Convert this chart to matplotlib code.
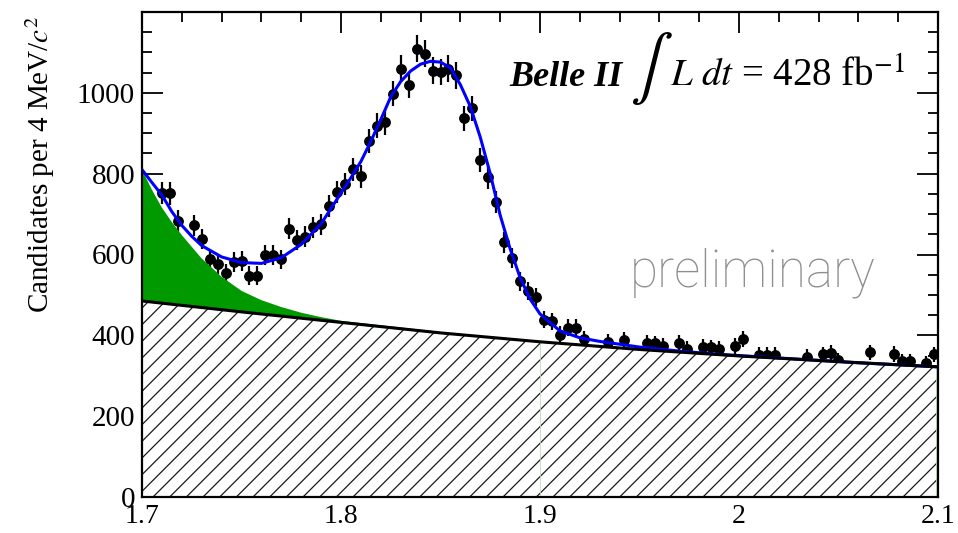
import numpy as np
import matplotlib
matplotlib.use("Agg")
import matplotlib.pyplot as plt
from matplotlib.ticker import MultipleLocator

# candidates per 4 MeV bin, 1.70 - 2.10 GeV
counts = [735, 700, 753, 751, 683, 605, 672, 639, 588, 576,
          553, 581, 584, 547, 547, 598, 598, 588, 664, 636,
          644, 667, 675, 720, 755, 774, 811, 793, 880, 919,
          927, 998, 1060, 1020, 1109, 1097, 1055, 1051, 1060, 1043,
          937, 962, 834, 791, 730, 630, 592, 534, 509, 495,
          439, 435, 402, 419, 419, 390, 354, 350, 383, 348,
          388, 346, 343, 381, 380, 374, 340, 381, 367, 336,
          371, 370, 366, 331, 374, 390, 327, 352, 352, 352,
          322, 320, 322, 347, 318, 353, 356, 339, 314, 312,
          312, 358, 309, 307, 354, 336, 336, 304, 331, 353]

# total fit
fit_x = [1.70, 1.705, 1.71, 1.715, 1.72, 1.725, 1.73, 1.74, 1.75, 1.76,
         1.77, 1.78, 1.79, 1.80, 1.805, 1.81, 1.815, 1.82, 1.825, 1.83,
         1.835, 1.84, 1.845, 1.85, 1.855, 1.86, 1.865, 1.87, 1.875, 1.88,
         1.885, 1.89, 1.895, 1.90, 1.91, 1.92, 1.93, 1.94, 1.95, 1.96,
         1.97, 1.98, 1.99, 2.00, 2.02, 2.04, 2.06, 2.08, 2.10]
fit_total = [810, 778, 747, 706, 672, 645, 622, 594, 580, 578,
             592, 625, 676, 752, 790, 830, 880, 934, 990, 1028,
             1054, 1071, 1078, 1076, 1062, 1020, 966, 890, 800, 697,
             614, 543, 490, 453, 411, 394, 385, 378, 371, 366,
             361, 357, 353, 350, 344, 338, 332, 327, 322]

# background + low-mass component (green)
comp_x = [1.70, 1.705, 1.71, 1.715, 1.72, 1.73, 1.74, 1.75, 1.76, 1.77,
          1.78, 1.79, 1.80, 1.82, 1.84, 1.86, 1.88, 1.90]
comp_top = [810, 760, 716, 680, 648, 590, 545, 510, 487, 470,
            456, 445, 436, 425, 414, 403, 393, 385]

# smooth background
bkg_x = [1.70, 1.75, 1.80, 1.85, 1.90, 1.95, 2.00, 2.05, 2.10]
bkg_y = [485, 458, 432, 406, 384, 365, 349, 335, 322]

xtick_vals = [1.7, 1.8, 1.9, 2.0, 2.1]
xtick_labels = ["1.7", "1.8", "1.9", "2", "2.1"]

plt.rcParams['font.family'] = ['Liberation Serif', 'DejaVu Serif']
plt.rcParams['mathtext.fontset'] = 'stix'
plt.rcParams['hatch.linewidth'] = 0.9

fig = plt.figure(figsize=(9.58, 5.33), dpi=100)
ax = fig.add_axes([142/958, 36/533, 796/958, 485/533])

mass = np.linspace(1.702, 2.098, 100)
counts = np.array(counts)
ax.errorbar(mass, counts, yerr=np.sqrt(counts), fmt='o', color='k',
            ms=6.8, elinewidth=1.6, capsize=0, zorder=2)

# green component between its curve and the background
gx = np.r_[comp_x, bkg_x[4::-1]]
gy = np.r_[comp_top, bkg_y[4::-1]]
ax.fill(gx, gy, color='#009a00', lw=0, zorder=3)

# hatched background, white filled so it hides points underneath
hx = np.r_[bkg_x, 2.1, 1.7]
hy = np.r_[bkg_y, 0, 0]
ax.fill(hx, hy, facecolor='white', edgecolor='#1a1a1a', hatch='//', lw=0, zorder=3)
ax.vlines([1.9, 2.099], 0, [384, 322], color='#b8e0b8', lw=0.6, zorder=3)

ax.plot(fit_x, fit_total, color='#0000ff', lw=2.2, zorder=4)
ax.plot(bkg_x, bkg_y, color='k', lw=2.2, zorder=5)

ax.set_xlim(1.7, 2.1)
ax.set_ylim(0, 1200)
ax.set_xticks(xtick_vals)
ax.set_xticklabels(xtick_labels)
ax.set_yticks([0, 200, 400, 600, 800, 1000])
ax.xaxis.set_minor_locator(MultipleLocator(0.02))
ax.yaxis.set_minor_locator(MultipleLocator(50))
ax.tick_params(which='both', direction='in', top=True, right=True,
               width=1.3, labelsize=21)
ax.tick_params(which='major', length=15)
ax.tick_params(which='minor', length=7)
ax.tick_params(axis='x', which='major', pad=5, labelsize=20)
ax.tick_params(axis='y', which='major', pad=5)
for s in ax.spines.values():
    s.set_linewidth(1.6)
    s.set_zorder(6)

fig.text(40/958, 1 - 16/533, r"Candidates per 4 MeV/$c^2$", rotation=90,
         ha='center', va='top', fontsize=21)

ty = 0.847
ax.text(0.462, ty, "Belle II", transform=ax.transAxes, fontsize=26,
        fontweight='bold', style='italic', ha='left', va='baseline')
ax.text(0.613, 0.85, r"$\int$", transform=ax.transAxes, fontsize=46,
        ha='left', va='baseline')
ax.text(0.663, ty, r"$L\ dt$ = 428 fb$^{-1}$", transform=ax.transAxes,
        fontsize=28, ha='left', va='baseline')

ax.text(0.613, 0.435, "preliminary", transform=ax.transAxes, fontsize=37,
        family=['Roboto', 'DejaVu Sans'], fontweight='light', color='#8e8e8e',
        ha='left', va='baseline')

fig.savefig('out.png', dpi=100)
